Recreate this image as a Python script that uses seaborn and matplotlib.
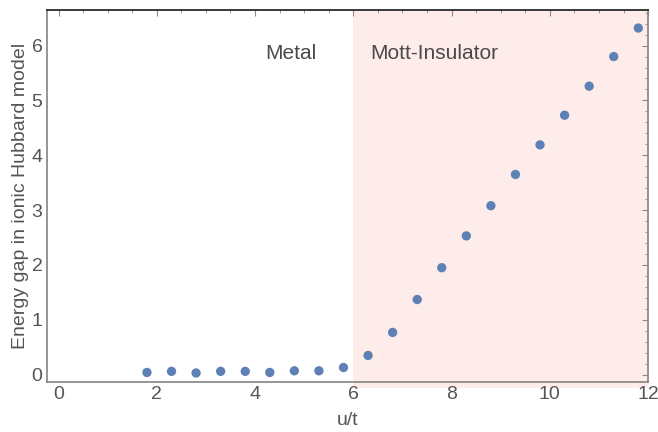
import numpy as np
import pandas as pd
import matplotlib
matplotlib.use("Agg")
import matplotlib.pyplot as plt
import seaborn as sns
from matplotlib.ticker import MultipleLocator

# ── Données ─────────────────────────────────────────────────
u_t = [1.8, 2.3, 2.8, 3.3, 3.8, 4.3, 4.8, 5.3, 5.8,
       6.3, 6.8, 7.3, 7.8, 8.3, 8.8, 9.3, 9.8, 10.3, 10.8, 11.3, 11.8]
gap = [0.04, 0.06, 0.03, 0.06, 0.06, 0.04, 0.07, 0.07, 0.13,
       0.35, 0.77, 1.37, 1.95, 2.53, 3.08, 3.65, 4.19, 4.73, 5.26, 5.80, 6.32]
df = pd.DataFrame({"u/t": u_t, "gap": gap})

# ── Style ───────────────────────────────────────────────────
sns.set_theme(style="white")
plt.rcParams["font.family"] = ["Liberation Sans", "DejaVu Sans"]
grey = "#555555"

fig, ax = plt.subplots(figsize=(6.58, 4.32), dpi=100)
fig.subplots_adjust(left=0.071, right=0.985, bottom=0.115, top=0.977)

# zone Mott-isolant
ax.fill_between([6, 12], -0.25, 6.65, color="#fdecea", lw=0, clip_on=False, zorder=0)

sns.scatterplot(data=df, x="u/t", y="gap", ax=ax, color="#5E81B5",
                s=45, edgecolor="none", zorder=3)

ax.set_xlim(-0.24, 12)
ax.set_ylim(-0.14, 6.65)
ax.xaxis.set_major_locator(MultipleLocator(2))
ax.xaxis.set_minor_locator(MultipleLocator(0.5))
ax.yaxis.set_major_locator(MultipleLocator(1))
ax.yaxis.set_minor_locator(MultipleLocator(0.2))

ax.tick_params(which="both", direction="in", top=True, right=True,
               colors="#888888", labelcolor=grey, labelsize=14)
ax.tick_params(which="major", length=4.5, width=0.8, pad=3)
ax.tick_params(which="minor", length=2.4, width=0.6)

for side in ["left", "bottom", "right"]:
    ax.spines[side].set_color("#888888")
ax.spines["top"].set_color("#222222")

ax.set_xlabel("u/t", color=grey, fontsize=14, labelpad=6)
ax.set_ylabel("Energy gap in ionic Hubbard model", color=grey, fontsize=14, labelpad=2)

ax.text(5.26, 5.86, "Metal", ha="right", va="center", fontsize=15, color="#4a4a4a")
ax.text(6.34, 5.86, "Mott-Insulator", ha="left", va="center", fontsize=15, color="#4a4a4a")

plt.savefig("out.png")
